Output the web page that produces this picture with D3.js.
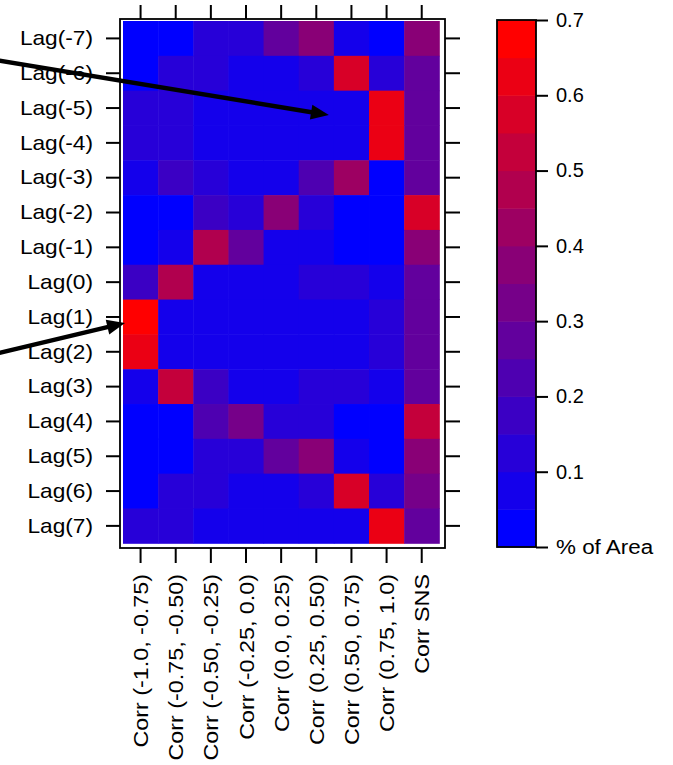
<!DOCTYPE html>
<html>
<head>
<meta charset="utf-8">
<script src="https://cdn.jsdelivr.net/npm/d3@7"></script>
<style>
  body { margin: 0; background: #fff; }
  svg text { font-family: "Liberation Sans", Arial, sans-serif; fill: #000; }
</style>
</head>
<body>
<div id="chart"></div>
<script>
// Row and column labels
var lags = ["Lag(-7)", "Lag(-6)", "Lag(-5)", "Lag(-4)", "Lag(-3)", "Lag(-2)", "Lag(-1)", "Lag(0)",
            "Lag(1)", "Lag(2)", "Lag(3)", "Lag(4)", "Lag(5)", "Lag(6)", "Lag(7)"];
var corrs = ["Corr (-1.0, -0.75)", "Corr (-0.75, -0.50)", "Corr (-0.50, -0.25)", "Corr (-0.25, 0.0)",
             "Corr (0.0, 0.25)", "Corr (0.25, 0.50)", "Corr (0.50, 0.75)", "Corr (0.75, 1.0)", "Corr SNS"];

// % of area, one row per lag
var areaM7 = [0.02, 0.02, 0.12, 0.12, 0.27, 0.37, 0.07, 0.02, 0.37];
var areaM6 = [0.02, 0.12, 0.12, 0.07, 0.07, 0.12, 0.57, 0.12, 0.27];
var areaM5 = [0.12, 0.12, 0.07, 0.07, 0.07, 0.07, 0.07, 0.62, 0.27];
var areaM4 = [0.12, 0.12, 0.07, 0.07, 0.07, 0.07, 0.07, 0.62, 0.27];
var areaM3 = [0.07, 0.17, 0.12, 0.07, 0.07, 0.22, 0.42, 0.02, 0.27];
var areaM2 = [0.02, 0.02, 0.17, 0.12, 0.37, 0.12, 0.02, 0.02, 0.57];
var areaM1 = [0.02, 0.07, 0.47, 0.27, 0.07, 0.07, 0.02, 0.02, 0.37];
var area0  = [0.17, 0.47, 0.07, 0.07, 0.07, 0.12, 0.12, 0.07, 0.27];
var areaP1 = [0.67, 0.07, 0.07, 0.07, 0.07, 0.07, 0.07, 0.12, 0.27];
var areaP2 = [0.62, 0.07, 0.07, 0.07, 0.07, 0.07, 0.07, 0.12, 0.27];
var areaP3 = [0.07, 0.52, 0.17, 0.07, 0.07, 0.12, 0.12, 0.07, 0.27];
var areaP4 = [0.02, 0.02, 0.22, 0.32, 0.12, 0.12, 0.02, 0.02, 0.52];
var areaP5 = [0.02, 0.02, 0.12, 0.12, 0.27, 0.37, 0.07, 0.02, 0.37];
var areaP6 = [0.02, 0.12, 0.12, 0.07, 0.07, 0.12, 0.57, 0.12, 0.32];
var areaP7 = [0.12, 0.12, 0.07, 0.07, 0.07, 0.07, 0.07, 0.62, 0.27];
var areaRows = [areaM7, areaM6, areaM5, areaM4, areaM3, areaM2, areaM1, area0,
                areaP1, areaP2, areaP3, areaP4, areaP5, areaP6, areaP7];

// Colour key ticks
var keyTicks = [0, 0.1, 0.2, 0.3, 0.4, 0.5, 0.6, 0.7];

var width = 673, height = 765;
var svg = d3.select("#chart").append("svg")
    .attr("width", width)
    .attr("height", height);

// 14 bands from blue to red, 0.05 each
var nBands = 14;
var bandColors = d3.range(nBands).map(function (i) { return d3.interpolateRgb("#0000ff", "#ff0000")(i / (nBands - 1)); });
var color = d3.scaleQuantize().domain([0, 0.7]).range(bandColors);

var x = d3.scaleBand().domain(corrs).range([123, 439.3]);
var y = d3.scaleBand().domain(lags).range([21, 543.3]);

// flatten to cells
var cells = [];
areaRows.forEach(function (row, r) {
    row.forEach(function (v, c) {
        cells.push({ lag: lags[r], corr: corrs[c], value: v });
    });
});

svg.append("g").selectAll("rect")
    .data(cells)
    .enter()
    .append("rect")
    .attr("x", function (d) { return x(d.corr); })
    .attr("y", function (d) { return y(d.lag); })
    .attr("width", x.bandwidth() + 0.5)
    .attr("height", y.bandwidth() + 0.5)
    .attr("fill", function (d) { return color(d.value); });

// panel frame
svg.append("rect")
    .attr("x", 120).attr("y", 19)
    .attr("width", 325).attr("height", 529)
    .attr("fill", "none")
    .attr("stroke", "#000")
    .attr("stroke-width", 1.8);

function styleAxis(g) {
    g.select(".domain").remove();
    g.selectAll(".tick line").attr("stroke", "#000").attr("stroke-width", 2);
    g.attr("font-family", null).attr("font-size", null);
    g.selectAll("text").attr("font-size", 21).attr("fill", "#000");
}

// the original lettering is a little wider than Arial
function widen(sel, k) {
    sel.each(function () {
        var w = this.getComputedTextLength();
        d3.select(this).attr("textLength", w * k).attr("lengthAdjust", "spacingAndGlyphs");
    });
}

var leftAxis = svg.append("g")
    .attr("transform", "translate(120,0)")
    .call(d3.axisLeft(y).tickSize(14).tickPadding(13))
    .call(styleAxis);
widen(leftAxis.selectAll(".tick text"), 1.08);

svg.append("g")
    .attr("transform", "translate(445,0)")
    .call(d3.axisRight(y).tickSize(15).tickFormat(""))
    .call(styleAxis);

svg.append("g")
    .attr("transform", "translate(0,19)")
    .call(d3.axisTop(x).tickSize(14).tickFormat(""))
    .call(styleAxis);

var bottomAxis = svg.append("g")
    .attr("transform", "translate(0,548)")
    .call(d3.axisBottom(x).tickSize(15))
    .call(styleAxis);

bottomAxis.selectAll(".tick text")
    .attr("text-anchor", "end")
    .attr("dy", null)
    .attr("dominant-baseline", "central")
    .attr("transform", "translate(0,26) rotate(-90)")
    .attr("x", 0)
    .attr("y", 0);
widen(bottomAxis.selectAll(".tick text"), 1.11);

// colour key
var keyScale = d3.scaleLinear().domain([0, 0.7]).range([547, 20]);
var keyBands = d3.range(nBands).map(function (i) { return [i * 0.05, (i + 1) * 0.05]; });

svg.append("g").selectAll("rect")
    .data(keyBands)
    .enter()
    .append("rect")
    .attr("x", 497)
    .attr("y", function (d) { return keyScale(d[1]); })
    .attr("width", 39)
    .attr("height", function (d) { return keyScale(d[0]) - keyScale(d[1]) + 0.5; })
    .attr("fill", function (d) { return color((d[0] + d[1]) / 2); });

svg.append("rect")
    .attr("x", 497).attr("y", 20)
    .attr("width", 39).attr("height", 527)
    .attr("fill", "none")
    .attr("stroke", "#000")
    .attr("stroke-width", 1.8);

var keyAxis = svg.append("g")
    .attr("transform", "translate(536,0)")
    .call(d3.axisRight(keyScale).tickValues(keyTicks).tickSize(12).tickPadding(8)
        .tickFormat(function (d) { return d === 0 ? "% of Area" : d3.format(".1f")(d); }))
    .call(styleAxis);
keyAxis.selectAll(".tick text").attr("font-size", 20);
widen(keyAxis.selectAll(".tick text").filter(function (d) { return d === 0; }), 1.12);

// annotation arrows pointing at cells
var arrows = [
    { from: [-5, 60], lag: "Lag(-5)", corr: corrs[6], dx: -5, dy: 7 },
    { from: [-5, 354], lag: "Lag(1)", corr: corrs[0], dx: 2, dy: 6 }
];

arrows.forEach(function (a) {
    var tx = x(a.corr) + a.dx;
    var ty = y(a.lag) + y.bandwidth() / 2 + a.dy;
    var ang = Math.atan2(ty - a.from[1], tx - a.from[0]);
    var len = 18, half = 7.5;
    var bx = tx - len * Math.cos(ang), by = ty - len * Math.sin(ang);
    svg.append("line")
        .attr("x1", a.from[0]).attr("y1", a.from[1])
        .attr("x2", bx + 2 * Math.cos(ang)).attr("y2", by + 2 * Math.sin(ang))
        .attr("stroke", "#000")
        .attr("stroke-width", 4.5);
    svg.append("polygon")
        .attr("points", [
            [tx, ty],
            [bx - half * Math.sin(ang), by + half * Math.cos(ang)],
            [bx + half * Math.sin(ang), by - half * Math.cos(ang)]
        ].map(function (p) { return p.join(","); }).join(" "))
        .attr("fill", "#000");
});
</script>
</body>
</html>
